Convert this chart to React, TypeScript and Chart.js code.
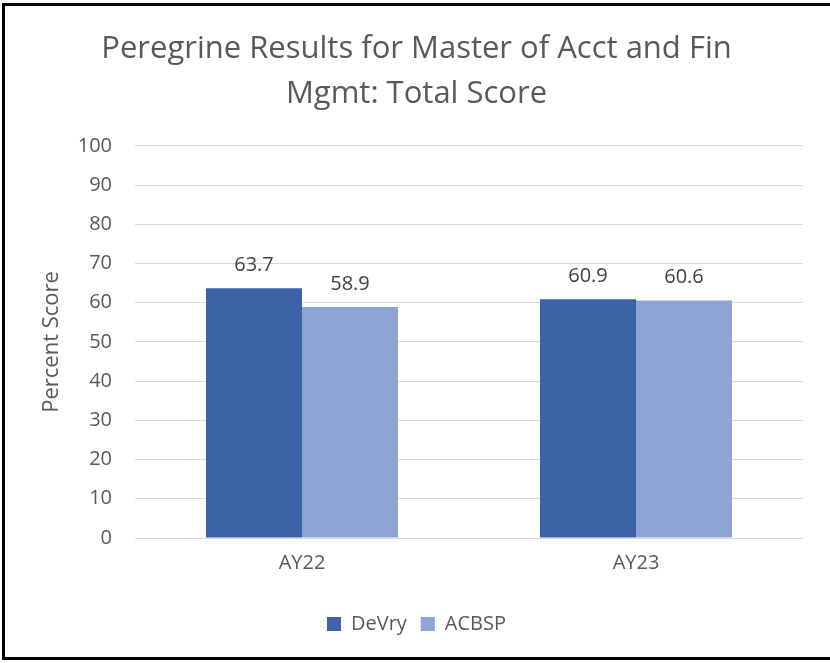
import React, { useEffect, useRef } from "react";
import { Chart, registerables } from "chart.js";

Chart.register(...registerables);

const categories = ["AY22", "AY23"];
const devryValues = [63.7, 60.9];
const acbspValues = [58.9, 60.6];
const seriesNames = ["DeVry", "ACBSP"];
const titleLines = ["Peregrine Results for Master of Acct and Fin", "Mgmt: Total Score"];
const yAxisTitle = "Percent Score";

const FONT = "'Open Sans', 'DejaVu Sans', sans-serif";

const dataLabelPlugin = {
  id: "dataLabels",
  afterDatasetsDraw(chart: any) {
    const ctx = chart.ctx;
    ctx.save();
    ctx.font = `20px ${FONT}`;
    ctx.fillStyle = "#404040";
    ctx.textAlign = "center";
    ctx.textBaseline = "alphabetic";
    chart.data.datasets.forEach((ds: any, i: number) => {
      const meta = chart.getDatasetMeta(i);
      meta.data.forEach((bar: any, j: number) => {
        ctx.fillText(String(ds.data[j]), bar.x, bar.y - 17);
      });
    });
    ctx.restore();
  },
};

export default function App() {
  const ref = useRef<HTMLCanvasElement>(null);
  useEffect(() => {
    document.body.style.margin = "0";
    const chart = new Chart(ref.current!, {
      type: "bar",
      data: {
        labels: categories,
        datasets: [
          { label: seriesNames[0], data: devryValues, backgroundColor: "#3D62A8" },
          { label: seriesNames[1], data: acbspValues, backgroundColor: "#8FA4D4" },
        ],
      },
      options: {
        animation: false,
        responsive: false,
        maintainAspectRatio: false,
        layout: { padding: { left: 30, right: 27, top: 11, bottom: 19 } },
        datasets: { bar: { categoryPercentage: 0.575, barPercentage: 1 } },
        plugins: {
          title: {
            display: true,
            text: titleLines,
            color: "#595959",
            font: { family: FONT, size: 31, weight: "normal", lineHeight: 1.45 },
            padding: { top: 16, bottom: 29 },
          },
          legend: {
            position: "bottom",
            labels: {
              color: "#595959",
              font: { family: FONT, size: 20 },
              boxWidth: 14,
              boxHeight: 14,
              padding: 14,
            },
          },
          tooltip: { enabled: false },
        },
        scales: {
          x: {
            grid: { display: false },
            border: { display: false },
            ticks: { color: "#595959", font: { family: FONT, size: 20 }, padding: 5 },
            afterFit: (scale: any) => {
              scale.height = 62;
            },
          },
          y: {
            min: 0,
            max: 100,
            ticks: { stepSize: 10, color: "#595959", font: { family: FONT, size: 20 }, padding: 23 },
            grid: { color: "#D9D9D9", lineWidth: 1, drawTicks: false },
            border: { display: false },
            title: {
              display: true,
              text: yAxisTitle,
              color: "#595959",
              font: { family: FONT, size: 22 },
              padding: { top: 9, bottom: 0 },
            },
            afterFit: (scale: any) => {
              scale.width = 105;
            },
          },
        },
      },
      plugins: [dataLabelPlugin],
    });
    return () => chart.destroy();
  }, []);
  return (
    <div style={{ position: "relative", width: 830, height: 663, overflow: "hidden" }}>
      <canvas ref={ref} width={830} height={663} style={{ position: "absolute", left: 0, top: 0 }} />
      <div
        style={{
          position: "absolute",
          left: 2,
          top: 3,
          width: 840,
          height: 657,
          boxSizing: "border-box",
          borderTop: "3px solid #000",
          borderLeft: "3px solid #000",
          borderBottom: "3px solid #000",
        }}
      />
    </div>
  );
}
